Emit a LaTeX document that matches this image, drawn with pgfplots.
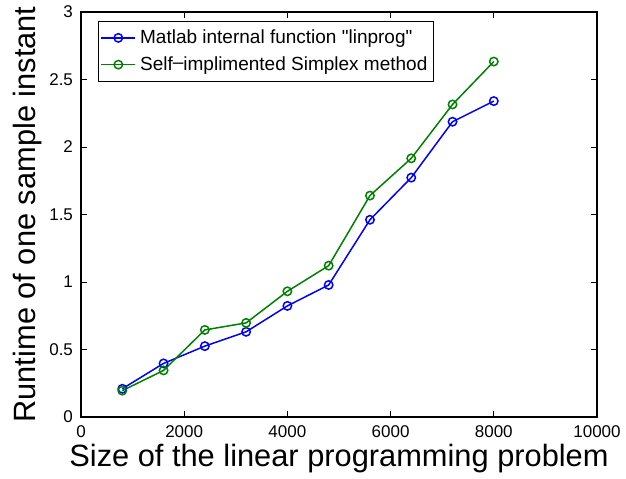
\documentclass[border=0pt]{standalone}
\usepackage{fontspec}
\setmainfont{Liberation Sans}[Ligatures=TeXOff]
\usepackage{pgfplots}
\pgfplotsset{compat=1.18}
\usetikzlibrary{calc}
\definecolor{mblue}{rgb}{0,0,1}
\definecolor{mgreen}{rgb}{0,0.5,0}
\begin{document}
\begin{tikzpicture}
\begin{axis}[
  scale only axis, width=258pt, height=202.5pt,
  xmin=0, xmax=10000, ymin=0, ymax=3,
  xtick={0,2000,4000,6000,8000,10000},
  ytick={0,0.5,1,1.5,2,2.5,3},
  scaled x ticks=false,
  /pgf/number format/assume math mode=true,
  /pgf/number format/1000 sep={},
  tick align=inside, tick pos=both,
  major tick length=2.8pt,
  tick style={black, line width=0.4pt},
  axis line style={black, line width=0.6pt},
  ticklabel style={font=\fontsize{8.5}{10}\selectfont},
  xticklabel style={yshift=-1pt},
  yticklabel style={xshift=-0.5pt},
  label style={font=\fontsize{15.4}{18}\selectfont},
  xlabel={Size of the linear programming problem},
  ylabel={Runtime of one sample instant},
  xlabel style={yshift=4pt},
  ylabel style={yshift=-3pt},
  legend style={at={(0,1)}, xshift=8.5pt, yshift=-4.5pt, anchor=north west,
    font=\fontsize{9.5}{11}\selectfont, draw=black, line width=0.5pt,
    inner xsep=1pt, inner ysep=2pt, row sep=1pt},
  legend cell align=left,
]
\addplot[mblue, line width=0.75pt, mark=o, mark size=2.1pt, mark options={solid}] coordinates {
(800,0.209) (1600,0.397) (2400,0.525) (3200,0.631) (4000,0.823)
(4800,0.978) (5600,1.461) (6400,1.773) (7200,2.187) (8000,2.340)};
\addlegendentry{Matlab internal function "linprog"}
\addplot[mgreen, line width=0.75pt, mark=o, mark size=2.1pt, mark options={solid}] coordinates {
(800,0.195) (1600,0.345) (2400,0.645) (3200,0.697) (4000,0.931)
(4800,1.121) (5600,1.640) (6400,1.916) (7200,2.315) (8000,2.633)};
\addlegendentry{Self{\raisebox{0.2ex}{\char"2013}}implimented Simplex method}
\coordinate (SW) at (rel axis cs:0,0);
\coordinate (NE) at (rel axis cs:1,1);
\end{axis}
\pgfresetboundingbox
\useasboundingbox ($(SW)+(-40.5pt,-31pt)$) rectangle ($(NE)+(14.5pt,6pt)$);
\end{tikzpicture}
\end{document}
